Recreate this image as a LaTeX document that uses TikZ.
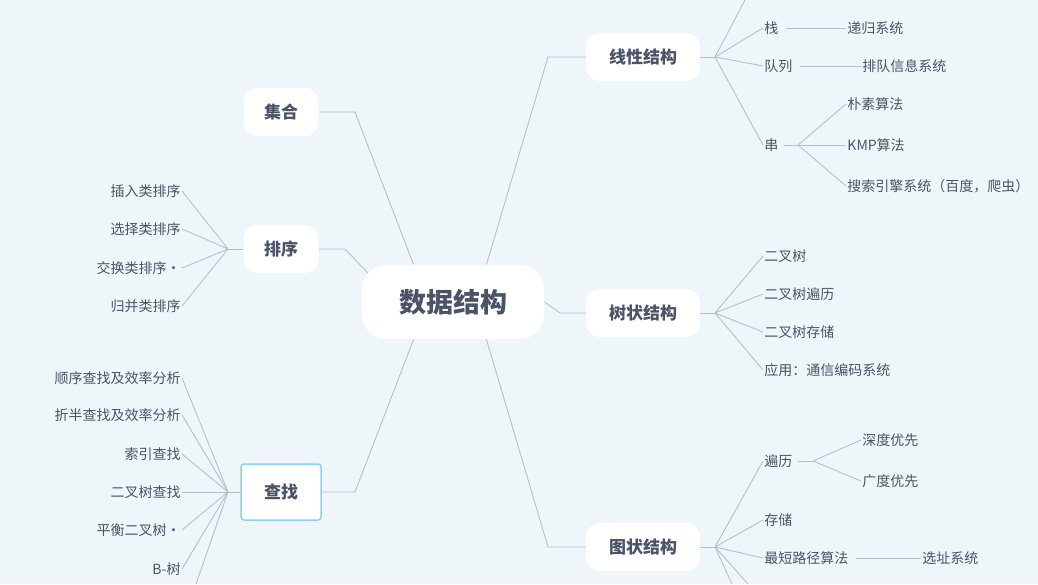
\documentclass[tikz,border=0pt]{standalone}
\usepackage{fontspec}
\setmainfont{Noto Sans CJK SC}
\usetikzlibrary{positioning}
\definecolor{bgc}{HTML}{EEF6FA}
\definecolor{txt}{HTML}{4A5466}
\definecolor{lnc}{HTML}{B4C0CA}
\definecolor{selc}{HTML}{8FD0EE}
\begin{document}
\begin{tikzpicture}[x=1pt, y=-1pt, line width=0.9pt]
    \tikzset{topic/.style={fill=white, rounded corners=14pt, text=txt, font=\fontsize{17}{17}\selectfont\bfseries, minimum width=114pt, minimum height=48pt},
             leaf/.style={text=txt, font=\fontsize{14}{14}\selectfont, inner sep=1pt},
             link/.style={draw=lnc}}
    \fill[bgc] (0,0) rectangle (1038,584);
    \useasboundingbox (0,0) rectangle (1038,584);
    % main topics
    \node[topic, minimum width=182pt, minimum height=74pt, rounded corners=24pt, font=\fontsize{27}{27}\selectfont\bfseries] (root) at (453,302) {数据结构};
    \node[topic] (linear) at (643,57)  {线性结构};
    \node[topic] (tree)   at (643,313) {树状结构};
    \node[topic] (graph)  at (643,547) {图状结构};
    \node[topic, minimum width=75pt] (set)  at (281,112) {集合};
    \node[topic, minimum width=75pt] (sort) at (281,249) {排序};
    \node[topic, minimum width=80pt, minimum height=56pt, rounded corners=3pt, draw=selc, line width=1.5pt] (search) at (281,492) {查找};
    % junctions
    \coordinate (jlin) at (715,57);   \coordinate (jtree) at (715,313);
    \coordinate (jgr) at (715,547);   \coordinate (jsort) at (228,249);
    \coordinate (jsea) at (228,492);  \coordinate (jstr) at (798,145);
    \coordinate (jtrav) at (813,461);
    \coordinate (offa) at (745,0);    \coordinate (offb) at (732,584);
    \coordinate (offc) at (748,584);  \coordinate (offd) at (196,584);
    % children of linear
    \node[leaf, anchor=west] (stack) at (763,28)  {栈};
    \node[leaf, anchor=west] (queue) at (763,66)  {队列};
    \node[leaf, anchor=west] (str)   at (763,145) {串};
    \node[leaf, anchor=west] (recur) at (846,28)  {递归系统};
    \node[leaf, anchor=west] (qsys)  at (861,66)  {排队信息系统};
    \node[leaf, anchor=west] (naive) at (846,104) {朴素算法};
    \node[leaf, anchor=west] (kmp)   at (846,145) {KMP算法};
    \node[leaf, anchor=west] (engine) at (846,186) {搜索引擎系统（百度，爬虫）};
    % children of tree
    \node[leaf, anchor=west] (bt)    at (763,256) {二叉树};
    \node[leaf, anchor=west] (bttr)  at (763,294) {二叉树遍历};
    \node[leaf, anchor=west] (btst)  at (763,332) {二叉树存储};
    \node[leaf, anchor=west] (app)   at (763,370) {应用：通信编码系统};
    % children of graph
    \node[leaf, anchor=west] (trav)  at (763,461) {遍历};
    \node[leaf, anchor=west] (store) at (763,520) {存储};
    \node[leaf, anchor=west] (short) at (763,558) {最短路径算法};
    \node[leaf, anchor=west] (dfs)   at (861,440) {深度优先};
    \node[leaf, anchor=west] (bfs)   at (861,481) {广度优先};
    \node[leaf, anchor=west] (site)  at (921,558) {选址系统};
    % children of sort
    \node[leaf, anchor=east] (ins)   at (182,191) {插入类排序};
    \node[leaf, anchor=east] (sel)   at (182,229) {选择类排序};
    \node[leaf, anchor=east] (swp)   at (182,268) {交换类排序·};
    \node[leaf, anchor=east] (mrg)   at (182,306) {归并类排序};
    % children of search
    \node[leaf, anchor=east] (seq)   at (182,378) {顺序查找及效率分析};
    \node[leaf, anchor=east] (half)  at (182,415) {折半查找及效率分析};
    \node[leaf, anchor=east] (idx)   at (182,454) {索引查找};
    \node[leaf, anchor=east] (bst)   at (182,492) {二叉树查找};
    \node[leaf, anchor=east] (avl)   at (182,530) {平衡二叉树·};
    \node[leaf, anchor=east] (btree) at (182,569) {B-树};
    % connectors from root
    \draw[link] (root.north west) ++(52,0) -- (355,112) -- (set.east);
    \draw[link] (368,273) -- (345,249) -- (sort.east);
    \draw[link] (root.south west) ++(52,0) -- (355,492) -- (search.east);
    \draw[link] (root.north east) ++(-58,0) -- (548,57) -- (linear.west);
    \draw[link] (root.east) -- (560,313) -- (tree.west);
    \draw[link] (root.south east) ++(-58,0) -- (548,547) -- (graph.west);
    % branches
    \draw[link] (linear.east) -- (jlin);
    \foreach \c in {offa, stack, queue, str} \draw[link] (jlin) -- (\c.west);
    \draw[link] (stack.east) ++(6,0) -- (recur.west);
    \draw[link] (queue.east) ++(6,0) -- (qsys.west);
    \draw[link] (str.east) ++(4,0) -- (jstr);
    \foreach \c in {naive, kmp, engine} \draw[link] (jstr) -- (\c.west);
    \draw[link] (tree.east) -- (jtree);
    \foreach \c in {bt, bttr, btst, app} \draw[link] (jtree) -- (\c.west);
    \draw[link] (graph.east) -- (jgr);
    \foreach \c in {trav, store, short} \draw[link] (jgr) -- (\c.west);
    \draw[link] (jgr) -- (offb);  \draw[link] (jgr) -- (offc);
    \draw[link] (trav.east) ++(4,0) -- (jtrav);
    \foreach \c in {dfs, bfs} \draw[link] (jtrav) -- (\c.west);
    \draw[link] (short.east) ++(6,0) -- (site.west);
    \draw[link] (sort.west) -- (jsort);
    \foreach \c in {ins, sel, swp, mrg} \draw[link] (jsort) -- (\c.east);
    \draw[link] (search.west) -- (jsea);
    \foreach \c in {seq, half, idx, bst, avl, btree} \draw[link] (jsea) -- (\c.east);
    \draw[link] (jsea) -- (offd);
\end{tikzpicture}
\end{document}
